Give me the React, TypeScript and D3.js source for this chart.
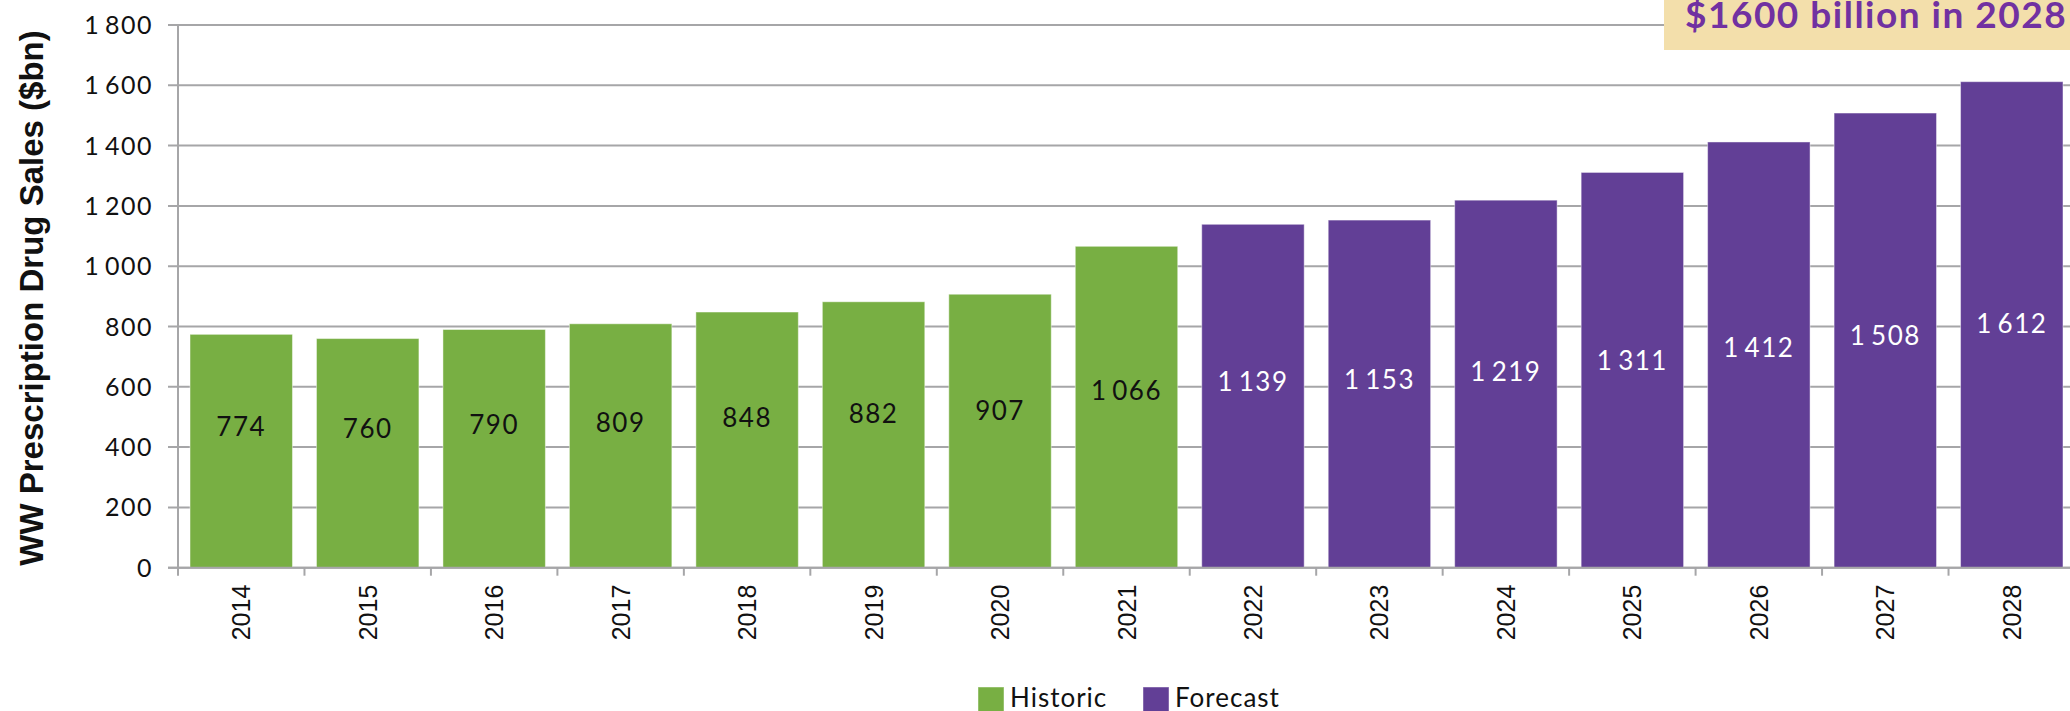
import { useEffect, useRef } from "react";
import * as d3 from "d3";

const years = ["2014", "2015", "2016", "2017", "2018", "2019", "2020", "2021", "2022", "2023", "2024", "2025", "2026", "2027", "2028"];
const sales = [774, 760, 790, 809, 848, 882, 907, 1066, 1139, 1153, 1219, 1311, 1412, 1508, 1612];
const kinds = ["Historic", "Historic", "Historic", "Historic", "Historic", "Historic", "Historic", "Historic",
    "Forecast", "Forecast", "Forecast", "Forecast", "Forecast", "Forecast", "Forecast"];
const yTicks = [0, 200, 400, 600, 800, 1000, 1200, 1400, 1600, 1800];
const legendItems = ["Historic", "Forecast"];
const calloutText = "$1600 billion in 2028";

const GREEN = "#78AF43";
const PURPLE = "#623F96";
const GRID = "#A6A6A8";
const GEO_FONT = "Lato, 'Open Sans', sans-serif";

// spaced thousands like "1 066"
const fmt = (v: number) => {
    const s = String(v);
    return s.length > 3 ? s.slice(0, s.length - 3) + "\u2009" + s.slice(s.length - 3) : s;
};

const App = () => {
    const ref = useRef<SVGSVGElement | null>(null);

    useEffect(() => {
        const svg = d3.select(ref.current);
        svg.selectAll("*").remove();

        const left = 178;
        const right = 2075;
        const top = 25;
        const bottom = 567.7;

        const x = d3.scaleBand()
            .domain(years)
            .range([left, right])
            .paddingInner(0.19)
            .paddingOuter(0.095);

        const y = d3.scaleLinear()
            .domain([0, 1800])
            .range([bottom, top]);

        const color = d3.scaleOrdinal<string, string>()
            .domain(legendItems)
            .range([GREEN, PURPLE]);

        // gridlines
        svg.append("g")
            .selectAll("line")
            .data(yTicks)
            .enter()
            .append("line")
            .attr("x1", left - 10)
            .attr("x2", 2070)
            .attr("y1", d => y(d))
            .attr("y2", d => y(d))
            .attr("stroke", GRID)
            .attr("stroke-width", 2);

        // y tick labels
        svg.append("g")
            .selectAll("text")
            .data(yTicks)
            .enter()
            .append("text")
            .attr("x", left - 25)
            .attr("y", d => y(d))
            .attr("dy", "0.36em")
            .attr("text-anchor", "end")
            .attr("font-family", GEO_FONT)
            .attr("font-size", "25px")
            .attr("letter-spacing", "1.5px")
            .attr("fill", "#111")
            .text(d => fmt(d));

        // bars
        const data = years.map((yr, i) => ({ yr, v: sales[i], kind: kinds[i] }));
        svg.append("g")
            .selectAll("rect")
            .data(data)
            .enter()
            .append("rect")
            .attr("x", d => x(d.yr)!)
            .attr("y", d => y(d.v))
            .attr("width", x.bandwidth())
            .attr("height", d => bottom - y(d.v))
            .attr("fill", d => color(d.kind))
            .attr("stroke", "#ffffff")
            .attr("stroke-opacity", 0.45)
            .attr("stroke-width", 1);

        // x axis baseline + ticks between bands
        svg.append("line")
            .attr("x1", left - 10)
            .attr("x2", 2070)
            .attr("y1", bottom)
            .attr("y2", bottom)
            .attr("stroke", GRID)
            .attr("stroke-width", 2);

        const step = x.step();
        svg.append("g")
            .selectAll("line")
            .data(years)
            .enter()
            .append("line")
            .attr("x1", d => x(d)! + x.bandwidth() + (step - x.bandwidth()) / 2)
            .attr("x2", d => x(d)! + x.bandwidth() + (step - x.bandwidth()) / 2)
            .attr("y1", bottom)
            .attr("y2", bottom + 8)
            .attr("stroke", GRID)
            .attr("stroke-width", 2);

        // y axis line
        svg.append("line")
            .attr("x1", left)
            .attr("x2", left)
            .attr("y1", top)
            .attr("y2", bottom + 8)
            .attr("stroke", GRID)
            .attr("stroke-width", 2);

        // value labels
        svg.append("g")
            .selectAll("text")
            .data(data)
            .enter()
            .append("text")
            .attr("x", d => x(d.yr)! + x.bandwidth() / 2)
            .attr("y", d => y(150 + 0.41 * d.v))
            .attr("dy", "0.36em")
            .attr("text-anchor", "middle")
            .attr("font-family", GEO_FONT)
            .attr("font-size", "26px")
            .attr("letter-spacing", "1.5px")
            .attr("fill", d => (d.kind === "Historic" ? "#111" : "#fff"))
            .text(d => fmt(d.v));

        // x labels (rotated)
        svg.append("g")
            .selectAll("text")
            .data(years)
            .enter()
            .append("text")
            .attr("transform", d => `translate(${x(d)! + x.bandwidth() / 2 + 9},${bottom + 17}) rotate(-90)`)
            .attr("text-anchor", "end")
            .attr("font-family", "'Liberation Sans', Arial, sans-serif")
            .attr("font-size", "25px")
            .attr("fill", "#111")
            .text(d => d);

        // y axis title
        svg.append("text")
            .attr("transform", `translate(43,298) rotate(-90)`)
            .attr("text-anchor", "middle")
            .attr("font-family", "'Liberation Sans', Arial, sans-serif")
            .attr("font-weight", "bold")
            .attr("font-size", "33px")
            .attr("fill", "#111")
            .text("WW Prescription Drug Sales ($bn)");

        // legend
        const legend = svg.append("g").attr("transform", "translate(978,687)");
        const offsets = [0, 165];
        legendItems.forEach((item, i) => {
            const g = legend.append("g").attr("transform", `translate(${offsets[i]},0)`);
            g.append("rect")
                .attr("width", 26)
                .attr("height", 26)
                .attr("fill", color(item))
                .attr("stroke", "#ffffff")
                .attr("stroke-opacity", 0.45);
            g.append("text")
                .attr("x", 32)
                .attr("y", 20)
                .attr("font-family", GEO_FONT)
                .attr("font-size", "26px")
                .attr("letter-spacing", "1px")
                .attr("fill", "#111")
                .text(item);
        });

        // callout box
        svg.append("rect")
            .attr("x", 1664)
            .attr("y", 0)
            .attr("width", 420)
            .attr("height", 50)
            .attr("fill", "#F3DFAB");
        svg.append("text")
            .attr("x", 1685)
            .attr("y", 28)
            .attr("font-family", GEO_FONT)
            .attr("font-weight", "bold")
            .attr("font-size", "37px")
            .attr("letter-spacing", "1.5px")
            .attr("fill", "#7131A1")
            .text(calloutText);
    }, []);

    return (
        <svg
            ref={ref}
            width={2070}
            height={711}
            style={{ position: "absolute", left: 0, top: 0, background: "#fff" }}
        />
    );
};

export default App;
